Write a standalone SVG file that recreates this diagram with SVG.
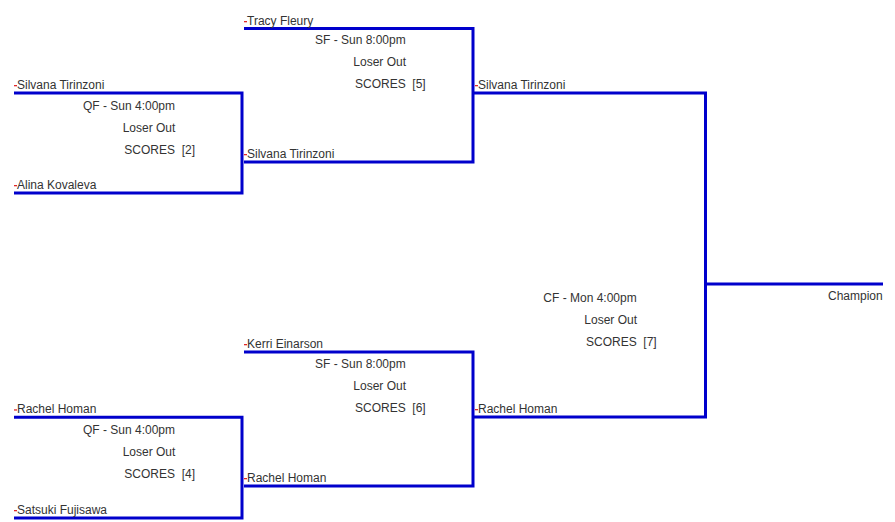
<svg xmlns="http://www.w3.org/2000/svg" width="895" height="522" viewBox="0 0 895 522">
<style>
text{font-family:"Liberation Sans",Arial,sans-serif;font-size:12px;fill:#333}
.br{fill:none;stroke:#0000cc;stroke-width:3}
.dash{fill:#e02828}
</style>
<rect width="895" height="522" fill="#fff"/>
<g id="connectors">
<path class="br" d="M14 93H242V193H14"/>
<path class="br" d="M244 28.5H473V162H244"/>
<path class="br" d="M474 93H705.5V417H474"/>
<path class="br" d="M705.5 284H883"/>
<path class="br" d="M244 352H473V486H244"/>
<path class="br" d="M14 417.3H242V518H14"/>
</g>
<g id="qf1">
<rect class="dash" x="14" y="85" width="3" height="1.3"/>
<text x="17" y="88.5">Silvana Tirinzoni</text>
<rect class="dash" x="14" y="185" width="3" height="1.3"/>
<text x="17" y="188.5">Alina Kovaleva</text>
<text x="83" y="109.5">QF - Sun 4:00pm</text>
<text x="122.7" y="131.5">Loser Out</text>
<text x="124.3" y="153.5">SCORES &#160;[2]</text>
</g>
<g id="qf2">
<rect class="dash" x="14" y="409.3" width="3" height="1.3"/>
<text x="17" y="412.8">Rachel Homan</text>
<rect class="dash" x="14" y="510" width="3" height="1.3"/>
<text x="17" y="513.5">Satsuki Fujisawa</text>
<text x="83" y="433.5">QF - Sun 4:00pm</text>
<text x="122.7" y="455.5">Loser Out</text>
<text x="124.3" y="477.5">SCORES &#160;[4]</text>
</g>
<g id="sf1">
<rect class="dash" x="244" y="21" width="3" height="1.3"/>
<text x="247" y="24.5">Tracy Fleury</text>
<rect class="dash" x="244" y="154" width="3" height="1.3"/>
<text x="247" y="157.5">Silvana Tirinzoni</text>
<text x="315" y="43.5">SF - Sun 8:00pm</text>
<text x="353.3" y="65.5">Loser Out</text>
<text x="355" y="87.5">SCORES &#160;[5]</text>
</g>
<g id="sf2">
<rect class="dash" x="244" y="344" width="3" height="1.3"/>
<text x="247" y="347.5">Kerri Einarson</text>
<rect class="dash" x="244" y="478" width="3" height="1.3"/>
<text x="247" y="481.5">Rachel Homan</text>
<text x="315" y="368">SF - Sun 8:00pm</text>
<text x="353.3" y="390">Loser Out</text>
<text x="355" y="412">SCORES &#160;[6]</text>
</g>
<g id="final">
<rect class="dash" x="475" y="85" width="3" height="1.3"/>
<text x="478" y="88.5">Silvana Tirinzoni</text>
<rect class="dash" x="475" y="409" width="3" height="1.3"/>
<text x="478" y="412.5">Rachel Homan</text>
<text x="543.3" y="301.5">CF - Mon 4:00pm</text>
<text x="584.3" y="323.5">Loser Out</text>
<text x="586" y="345.5">SCORES &#160;[7]</text>
</g>
<g id="champion">
<text x="882.7" y="299.5" text-anchor="end">Champion</text>
</g>
</svg>
